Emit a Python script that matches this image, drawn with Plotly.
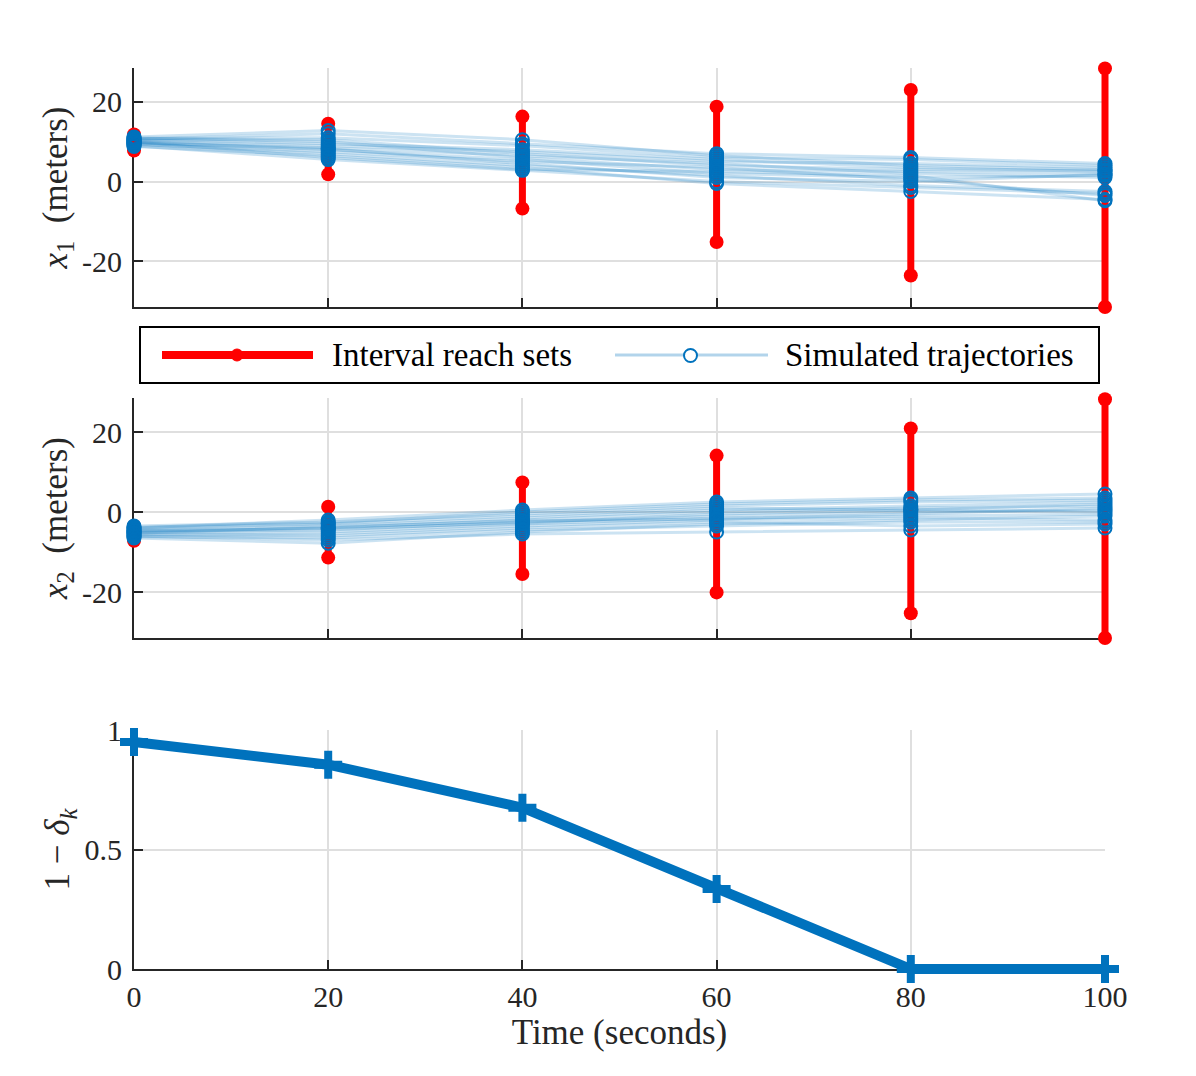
import plotly.graph_objects as go

# Time steps (seconds)
TIME = [0, 20, 40, 60, 80, 100]

# Interval reach sets (lower / upper bound) for x1 and x2
X1_LOWER = [7.8, 1.8, -6.8, -15.2, -23.6, -31.5]
X1_UPPER = [11.8, 14.5, 16.3, 18.8, 23.0, 28.4]
X2_LOWER = [-7.2, -11.4, -15.5, -20.1, -25.3, -31.5]
X2_UPPER = [-3.5, 1.3, 7.4, 14.1, 20.9, 28.2]

# Simulated trajectories (one row per run)
X1_SIM = [
    [10.0, 8.0, 5.5, 2.0, 1.0, 1.5],
    [11.2, 12.8, 10.5, 6.5, 4.0, 3.0],
    [9.0, 5.5, 2.8, 0.0, -1.5, -3.0],
    [10.5, 9.5, 8.0, 5.5, 3.5, 2.5],
    [9.5, 7.0, 4.0, 1.5, -1.0, -2.5],
    [10.8, 11.0, 9.0, 6.0, 5.5, 4.0],
    [9.8, 8.5, 6.5, 4.5, 2.0, 1.0],
    [10.2, 9.0, 7.5, 5.0, 4.5, 3.5],
    [8.8, 6.5, 3.5, -0.5, -2.5, -4.5],
    [11.0, 10.0, 6.0, 3.0, 2.5, 2.0],
    [9.3, 7.5, 5.0, 3.5, 0.5, -3.5],
    [10.6, 12.0, 9.5, 7.0, 6.0, 4.5],
    [9.6, 8.2, 4.5, 1.0, 0.0, 1.8],
    [10.4, 10.5, 7.0, 4.0, 3.0, 2.8],
    [9.9, 6.0, 3.0, 2.5, 1.5, -4.8],
]
X2_SIM = [
    [-5.0, -4.5, -2.5, -1.0, 0.0, 0.5],
    [-4.0, -2.0, 0.5, 2.5, 3.5, 4.5],
    [-6.5, -7.8, -5.0, -3.0, -2.0, -1.0],
    [-4.5, -3.5, -1.5, 0.5, 1.5, 2.5],
    [-5.5, -6.0, -4.0, -2.5, -3.5, -3.0],
    [-3.5, -2.5, -0.5, 1.5, 2.5, 3.0],
    [-5.2, -5.0, -3.0, -1.5, -1.0, -0.5],
    [-4.8, -4.0, -2.0, 0.0, 1.0, 1.5],
    [-6.0, -7.0, -5.5, -5.0, -4.5, -4.0],
    [-4.2, -3.0, -1.0, 1.0, 0.5, 2.0],
    [-5.8, -5.5, -3.5, -2.0, -1.5, -2.0],
    [-4.6, -4.2, -2.8, -0.5, 0.5, 0.0],
    [-5.3, -3.8, -2.2, -1.8, -0.5, 1.0],
    [-3.8, -2.8, 0.0, 2.0, 3.0, 3.5],
    [-6.2, -6.5, -4.5, -3.5, -2.5, -2.5],
]

# Probability bound 1 - delta_k
ONE_MINUS_DELTA = [0.95, 0.855, 0.675, 0.335, 0.0, 0.0]

# Tick labels
X_TICKS = [0, 20, 40, 60, 80, 100]
Y_TICKS_POS = [-20, 0, 20]
Y_TICK_TEXT = ["-20", "0", "20"]
P_TICKS = [0, 0.5, 1]
P_TICK_TEXT = ["0", "0.5", "1"]

W, H = 1196, 1076
OFF = 8  # page body margin
RED = "#ff0000"
BLUE = "#0072bd"
AXIS = "#262626"
GRID = "#dfdfdf"
FONT = "Liberation Serif"
PAD = 25  # px of extra room so thick marks at the axis edges are not clipped


def px(x):
    return (x - OFF) / W


def py(y):
    return 1 - (y - OFF) / H


def interval_xy(t, lo, hi):
    xs, ys = [], []
    for ti, l, h in zip(t, lo, hi):
        xs += [ti, ti, None]
        ys += [l, h, None]
    return xs, ys


def padded(dom_px, rng, vertical=False):
    """Domain/range of an invisible data axis that maps like the visible one."""
    a, b = dom_px
    lo, hi = rng
    s = (b - a) / (hi - lo)
    new_rng = [lo - PAD / s, hi + PAD / s]
    if vertical:
        return [py(b + PAD), py(a - PAD)], new_rng
    return [px(a - PAD), px(b + PAD)], new_rng


X_PX = (134, 1105)
PANELS = [  # (top px, bottom px, y range)
    (68, 307, [-31.5, 28.5]),
    (398, 638, [-31.5, 28.5]),
    (730, 969, [0, 1]),
]

tick_font = dict(family=FONT, size=30, color=AXIS)
title_font = dict(family=FONT, size=35, color=AXIS)

axis_common = dict(
    showline=True, linecolor=AXIS, linewidth=2,
    ticks="inside", ticklen=9, tickwidth=1.5, tickcolor=AXIS,
    showgrid=True, gridcolor=GRID, gridwidth=1.5,
    zeroline=False, mirror=False, automargin=False,
    tickfont=tick_font,
)

layout = dict(
    width=W, height=H,
    margin=dict(l=0, r=0, t=0, b=0),
    paper_bgcolor="white", plot_bgcolor="rgba(0,0,0,0)",
    font=dict(family=FONT, color=AXIS, size=30),
    showlegend=False,
)

y_titles = [
    "<i>x</i><sub>1</sub>\u2002(meters)",
    "<i>x</i><sub>2</sub>\u2002(meters)",
    "1 − <i>δ<sub>k</sub></i>",
]
y_ticks = [(Y_TICKS_POS, Y_TICK_TEXT), (Y_TICKS_POS, Y_TICK_TEXT), (P_TICKS, P_TICK_TEXT)]

for i, (top, bot, yr) in enumerate(PANELS):
    n = i + 1
    sfx = str(n) if n > 1 else ""
    layout["xaxis" + sfx] = dict(axis_common, domain=[px(X_PX[0]), px(X_PX[1])], range=[0, 100],
                                 tickvals=X_TICKS, showticklabels=(n == 3), anchor="y" + sfx)
    layout["yaxis" + sfx] = dict(axis_common, domain=[py(bot), py(top)], range=yr,
                                 tickvals=y_ticks[i][0], ticktext=y_ticks[i][1], anchor="x" + sfx,
                                 ticklabelstandoff=4,
                                 title=dict(text=y_titles[i], font=title_font, standoff=4))
    # invisible data axes with a padded plot area
    dx_dom, dx_rng = padded(X_PX, [0, 100])
    dy_dom, dy_rng = padded((top, bot), yr, vertical=True)
    layout[f"xaxis{n + 3}"] = dict(visible=False, domain=dx_dom, range=dx_rng, anchor=f"y{n + 3}")
    layout[f"yaxis{n + 3}"] = dict(visible=False, domain=dy_dom, range=dy_rng, anchor=f"x{n + 3}")

layout["xaxis3"]["title"] = dict(text="Time (seconds)", font=title_font, standoff=4)

fig = go.Figure(layout=layout)

# empty traces so that the visible axes frames get drawn
for sfx in ["", "2", "3"]:
    fig.add_trace(go.Scatter(x=[], y=[], xaxis="x" + sfx, yaxis="y" + sfx, hoverinfo="skip"))

# Reach sets and simulated trajectories for x1, x2
for n, lo, hi, sims in [(1, X1_LOWER, X1_UPPER, X1_SIM), (2, X2_LOWER, X2_UPPER, X2_SIM)]:
    xs, ys = interval_xy(TIME, lo, hi)
    fig.add_trace(
        go.Scatter(
            x=xs, y=ys, mode="lines+markers",
            line=dict(color=RED, width=7),
            marker=dict(color=RED, size=14, symbol="circle"),
            xaxis=f"x{n + 3}", yaxis=f"y{n + 3}", hoverinfo="skip",
        )
    )
    for traj in sims:
        fig.add_trace(
            go.Scatter(
                x=TIME, y=traj, mode="lines+markers",
                line=dict(color="rgba(0,114,189,0.2)", width=3),
                marker=dict(symbol="circle-open", color=BLUE, size=13, line=dict(width=2)),
                xaxis=f"x{n + 3}", yaxis=f"y{n + 3}",
            )
        )

# 1 - delta_k
fig.add_trace(
    go.Scatter(
        x=TIME, y=ONE_MINUS_DELTA, mode="lines+markers",
        line=dict(color=BLUE, width=10),
        marker=dict(symbol="cross-thin", color=BLUE, size=20, line=dict(width=8, color=BLUE)),
        xaxis="x6", yaxis="y6",
    )
)

# Legend box drawn by hand between the first two panels
LEG_Y = py(355)
shapes = [
    dict(type="rect", xref="paper", yref="paper", x0=px(140), x1=px(1099), y0=py(383), y1=py(327),
         line=dict(color="black", width=2), fillcolor="white", layer="above"),
    dict(type="line", xref="paper", yref="paper", x0=px(162), x1=px(313), y0=LEG_Y, y1=LEG_Y,
         line=dict(color=RED, width=8), layer="above"),
    dict(type="circle", xref="paper", yref="paper", x0=px(231), x1=px(243), y0=py(361), y1=py(349),
         line=dict(color=RED, width=1), fillcolor=RED, layer="above"),
    dict(type="line", xref="paper", yref="paper", x0=px(615), x1=px(768), y0=LEG_Y, y1=LEG_Y,
         line=dict(color="rgba(0,114,189,0.3)", width=3), layer="above"),
    dict(type="circle", xref="paper", yref="paper", x0=px(684), x1=px(697), y0=py(362), y1=py(349),
         line=dict(color=BLUE, width=2), fillcolor="white", layer="above"),
]
fig.update_layout(shapes=shapes)
for text, x in [("Interval reach sets", 330), ("Simulated trajectories", 783)]:
    fig.add_annotation(
        text=text, xref="paper", yref="paper", x=px(x), y=LEG_Y,
        xanchor="left", yanchor="middle", showarrow=False,
        font=dict(family=FONT, size=33, color="black"),
    )

fig.write_html("out.html")
